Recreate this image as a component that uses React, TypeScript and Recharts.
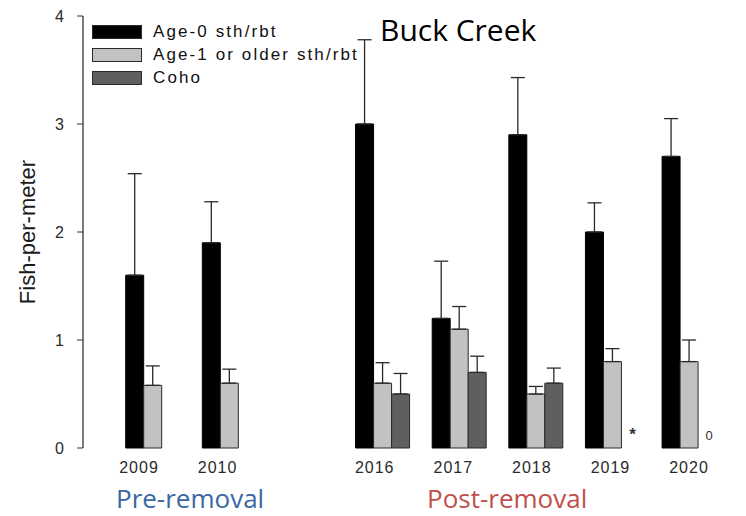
import React from "react";
import { BarChart, Bar, XAxis, YAxis, ErrorBar, Legend, Rectangle } from "recharts";

const years = ["2009", "2010", "", "2016", "2017", "2018", "2019", "2020"];
const age0 = [1.6, 1.9, null, 3.0, 1.2, 2.9, 2.0, 2.7];
const age0Err = [0.94, 0.38, null, 0.78, 0.53, 0.53, 0.27, 0.35];
const age1 = [0.58, 0.6, null, 0.6, 1.1, 0.5, 0.8, 0.8];
const age1Err = [0.18, 0.13, null, 0.19, 0.21, 0.07, 0.12, 0.2];
const coho = [null, null, null, 0.5, 0.7, 0.6, 0, 0];
const cohoErr = [null, null, null, 0.19, 0.15, 0.14, null, null];
const cohoNotes = ["", "", "", "", "", "", "*", "0"];
const yTicks = [0, 1, 2, 3, 4];

const seriesNames = ["Age-0 sth/rbt", "Age-1 or older sth/rbt", "Coho"];
const seriesFills = ["#000000", "#c2c2c2", "#5f5f5f"];

const upOnly = (e: number | null) => (e == null ? null : [0, e]);

const data = years.map((year, i) => ({
  year,
  age0: age0[i],
  age0Err: upOnly(age0Err[i]),
  age1: age1[i],
  age1Err: upOnly(age1Err[i]),
  coho: coho[i],
  cohoErr: upOnly(cohoErr[i]),
  note: cohoNotes[i],
}));

const FONT = '"Liberation Sans", Arial, sans-serif';
const INK = "#2a2a2a";

function LegendBox({ payload }: any) {
  return (
    <div style={{ fontFamily: FONT, fontSize: 17, color: "#111", letterSpacing: 2.1 }}>
      {(payload || []).map((p: any) => (
        <div key={p.value} style={{ display: "flex", alignItems: "center", height: 23 }}>
          <span
            style={{
              display: "inline-block",
              width: 48,
              height: 12,
              background: p.color,
              border: `1px solid ${INK}`,
              marginRight: 11,
            }}
          />
          <span>{p.value}</span>
        </div>
      ))}
    </div>
  );
}

function YLabel({ viewBox }: any) {
  const cx = viewBox.x + 4;
  const cy = viewBox.y + viewBox.height / 2;
  return (
    <text
      x={cx}
      y={cy}
      transform={`rotate(-90 ${cx} ${cy})`}
      textAnchor="middle"
      dominantBaseline="central"
      fontFamily={FONT}
      fontSize={22}
      fill="#1a1a1a"
    >
      Fish-per-meter
    </text>
  );
}

// coho bar: zero values get a 1px placeholder so the note ("*" / "0") can sit in the slot
function CohoShape(props: any) {
  const { x, y, width, height, payload } = props;
  const note = payload?.note;
  const base = y + height;
  return (
    <g>
      {payload?.coho > 0 && <Rectangle {...props} />}
      {note ? (
        <text
          x={x + width / 2 + 2}
          y={base - 8}
          textAnchor="middle"
          fontFamily={FONT}
          fontSize={note === "*" ? 17 : 13}
          fontWeight={note === "*" ? 700 : 400}
          fill="#333"
        >
          {note}
        </text>
      ) : null}
    </g>
  );
}

export default function App() {
  const tickStyle = { fontFamily: FONT, fontSize: 16, fill: "#2a2a2a", letterSpacing: 1 };
  return (
    <div style={{ position: "relative", width: 746, height: 516, background: "#fff" }}>
      <BarChart
        width={746}
        height={516}
        data={data}
        margin={{ top: 16, right: 0, bottom: 38, left: 23 }}
        barGap={0}
        barSize={18}
      >
        <XAxis
          dataKey="year"
          tick={false}
          tickLine={false}
          height={0}
          axisLine={{ stroke: "#555", strokeWidth: 1.3 }}
          padding={{ left: 31.7, right: 18.3 }}
        />
        <XAxis
          xAxisId="labels"
          dataKey="year"
          axisLine={false}
          tickLine={false}
          tickMargin={8}
          height={30}
          tick={tickStyle}
          interval={0}
          padding={{ left: 16.7, right: 17.7 }}
        />
        <YAxis
          domain={[0, 4]}
          ticks={yTicks}
          width={60}
          tickSize={6}
          tickMargin={12}
          tick={tickStyle}
          axisLine={{ stroke: "#333", strokeWidth: 1.3 }}
          tickLine={{ stroke: "#333" }}
          label={<YLabel />}
        />
        <Legend
          layout="vertical"
          align="center"
          verticalAlign="middle"
          content={<LegendBox />}
          wrapperStyle={{ top: 20, left: 92, width: "auto", height: "auto" }}
        />
        <Bar dataKey="age0" name={seriesNames[0]} fill={seriesFills[0]} stroke="#000" isAnimationActive={false}>
          <ErrorBar dataKey="age0Err" width={7} stroke={INK} strokeWidth={1.3} />
        </Bar>
        <Bar dataKey="age1" name={seriesNames[1]} fill={seriesFills[1]} stroke={INK} isAnimationActive={false}>
          <ErrorBar dataKey="age1Err" width={7} stroke={INK} strokeWidth={1.3} />
        </Bar>
        <Bar
          dataKey="coho"
          name={seriesNames[2]}
          fill={seriesFills[2]}
          stroke={INK}
          minPointSize={(v: any) => (v === 0 ? 1 : 0)}
          shape={<CohoShape />}
          isAnimationActive={false}
        >
          <ErrorBar dataKey="cohoErr" width={7} stroke={INK} strokeWidth={1.3} />
        </Bar>
      </BarChart>
      <div
        style={{
          position: "absolute",
          left: 380,
          top: 15,
          fontFamily: '"Open Sans", sans-serif',
          fontSize: 30,
          lineHeight: "30px",
          color: "#000",
          whiteSpace: "nowrap",
        }}
      >
        Buck Creek
      </div>
      <div
        style={{
          position: "absolute",
          left: 116,
          top: 485,
          fontFamily: '"Open Sans", sans-serif',
          fontSize: 26,
          lineHeight: "26px",
          color: "#3a68a2",
          whiteSpace: "nowrap",
        }}
      >
        Pre-removal
      </div>
      <div
        style={{
          position: "absolute",
          left: 427,
          top: 485,
          fontFamily: '"Open Sans", sans-serif',
          fontSize: 26,
          lineHeight: "26px",
          color: "#c0504d",
          whiteSpace: "nowrap",
        }}
      >
        Post-removal
      </div>
    </div>
  );
}

const style = new CSSStyleSheet();
style.replaceSync(`
body {
  margin: 0;
}
`);

if (typeof document !== "undefined" && !document.adoptedStyleSheets.includes(style)) {
  document.adoptedStyleSheets = [...document.adoptedStyleSheets, style];
}
